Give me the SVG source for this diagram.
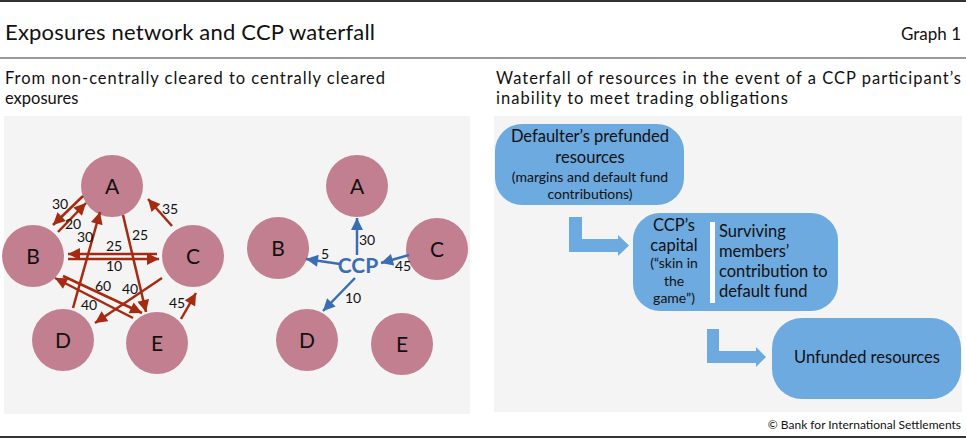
<svg xmlns="http://www.w3.org/2000/svg" width="966" height="445" viewBox="0 0 966 445">
<defs>
<marker id="ar" viewBox="0 0 10 10" refX="10" refY="5" markerWidth="13" markerHeight="12" markerUnits="userSpaceOnUse" orient="auto"><path d="M0,0 L10,5 L0,10 z" fill="#A52A10"/></marker>
<marker id="ab" viewBox="0 0 10 10" refX="10" refY="5" markerWidth="13" markerHeight="12" markerUnits="userSpaceOnUse" orient="auto"><path d="M0,0 L10,5 L0,10 z" fill="#3A6DB4"/></marker>
</defs>
<style>
text{font-family:Lato,"Noto Sans",sans-serif;fill:#111}
.node circle{fill:#C27F8F}
.node text{font-size:21px;text-anchor:middle}
.r{stroke:#A52A10;stroke-width:2.5;fill:none;marker-end:url(#ar)}
.b{stroke:#3A6DB4;stroke-width:2.5;fill:none;marker-end:url(#ab)}
.lbl{font-size:14px;text-anchor:middle}
.box{fill:#6DAAE0}
.wt{font-size:16.5px;text-anchor:middle}
.ws{font-size:14px;text-anchor:middle}
.sub{font-size:16.5px}
</style>
<rect width="966" height="445" fill="#fff"/>
<line x1="0" y1="1" x2="966" y2="1" stroke="#333" stroke-width="2"/>
<text x="5" y="40" style="font-size:22px" textLength="370">Exposures network and CCP waterfall</text>
<text x="961" y="40" style="font-size:17px;text-anchor:end">Graph 1</text>
<line x1="0" y1="58" x2="966" y2="58" stroke="#333" stroke-width="1.2"/>
<text class="sub" x="5" y="84" textLength="380">From non-centrally cleared to centrally cleared</text>
<text class="sub" x="5" y="104">exposures</text>
<text class="sub" x="496" y="84" textLength="465">Waterfall of resources in the event of a CCP participant’s</text>
<text class="sub" x="496" y="104" textLength="292">inability to meet trading obligations</text>
<rect x="4" y="116" width="466" height="298" fill="#F4F4F4"/>
<rect x="494" y="116" width="468" height="296" fill="#F4F4F4"/>

<g id="left-nodes">
<g id="nA" class="node"><circle cx="112" cy="186" r="31"/><text x="112" y="194">A</text></g>
<g id="nB" class="node"><circle cx="33" cy="256" r="31"/><text x="33" y="264">B</text></g>
<g id="nC" class="node"><circle cx="193" cy="256" r="31"/><text x="193" y="264">C</text></g>
<g id="nD" class="node"><circle cx="63" cy="340" r="31"/><text x="63" y="348">D</text></g>
<g id="nE" class="node"><circle cx="157" cy="343" r="31"/><text x="157" y="351">E</text></g>
</g>
<g id="left-connectors">
<line class="r" x1="83" y1="196" x2="53" y2="225"/>
<line class="r" x1="58" y1="232" x2="86" y2="203"/>
<line class="r" x1="73" y1="308" x2="100" y2="212"/>
<line class="r" x1="123" y1="215" x2="146" y2="312"/>
<line class="r" x1="172" y1="226" x2="148" y2="199"/>
<line class="r" x1="157" y1="254" x2="68" y2="254"/>
<line class="r" x1="68" y1="259" x2="159" y2="259"/>
<line class="r" x1="133" y1="318" x2="55" y2="278"/>
<line class="r" x1="63" y1="276" x2="142" y2="313"/>
<line class="r" x1="162" y1="278" x2="95" y2="323"/>
<line class="r" x1="181" y1="319" x2="196" y2="293"/>
<text class="lbl" x="60" y="209">30</text>
<text class="lbl" x="73" y="229">20</text>
<text class="lbl" x="85" y="242">30</text>
<text class="lbl" x="140" y="240">25</text>
<text class="lbl" x="170" y="214">35</text>
<text class="lbl" x="114" y="251">25</text>
<text class="lbl" x="114" y="271">10</text>
<text class="lbl" x="103" y="291">60</text>
<text class="lbl" x="89" y="310">40</text>
<text class="lbl" x="130" y="294">40</text>
<text class="lbl" x="177" y="308">45</text>
</g>

<g id="right-nodes">
<g id="rA" class="node"><circle cx="357" cy="186" r="31"/><text x="357" y="194">A</text></g>
<g id="rB" class="node"><circle cx="278" cy="248" r="31"/><text x="278" y="256">B</text></g>
<g id="rC" class="node"><circle cx="437" cy="249" r="31"/><text x="437" y="257">C</text></g>
<g id="rD" class="node"><circle cx="307" cy="340" r="31"/><text x="307" y="348">D</text></g>
<g id="rE" class="node"><circle cx="402" cy="344" r="31"/><text x="402" y="352">E</text></g>
<g id="ccp"><text x="358" y="273" style="font-size:21px;font-weight:bold;fill:#3A6DB4;text-anchor:middle">CCP</text></g>
</g>
<g id="right-connectors">
<line class="b" x1="357" y1="255" x2="357" y2="218"/>
<line class="b" x1="340" y1="264" x2="306" y2="259"/>
<line class="b" x1="409" y1="255" x2="381" y2="263"/>
<line class="b" x1="355" y1="278" x2="323" y2="311"/>
<text class="lbl" x="367" y="245">30</text>
<text class="lbl" x="325" y="259">5</text>
<text class="lbl" x="403" y="271">45</text>
<text class="lbl" x="353" y="303">10</text>
</g>

<g id="waterfall-connectors">
<path class="box" d="M569,217 H582 V239 H618 V235 L629,245.5 L618,256 V252 H569 Z"/>
<path class="box" d="M707,329 H719 V351 H756 V347 L766,357 L756,367 V363 H707 Z"/>
</g>
<g id="w1">
<rect class="box" x="495" y="124" width="189" height="81" rx="27"/>
<text class="wt" x="590" y="142">Defaulter’s prefunded</text>
<text class="wt" x="590" y="163">resources</text>
<text class="ws" x="590" y="182">(margins and default fund</text>
<text class="ws" x="590" y="199">contributions)</text>
</g>
<g id="w2">
<rect class="box" x="633" y="213" width="205" height="98" rx="27"/>
<text class="wt" x="674" y="231">CCP’s</text>
<text class="wt" x="674" y="251">capital</text>
<text class="ws" x="674" y="268">(“skin in</text>
<text class="ws" x="674" y="286">the</text>
<text class="ws" x="674" y="303">game”)</text>
<rect x="710" y="222" width="5" height="81" fill="#fff"/>
<text class="wt" x="719" y="237" style="text-anchor:start">Surviving</text>
<text class="wt" x="719" y="257" style="text-anchor:start">members’</text>
<text class="wt" x="719" y="277" style="text-anchor:start">contribution to</text>
<text class="wt" x="719" y="297" style="text-anchor:start">default fund</text>
</g>
<g id="w3">
<rect class="box" x="772" y="318" width="189" height="81" rx="30"/>
<text class="wt" x="867" y="363">Unfunded resources</text>
</g>

<text x="961" y="429" style="font-size:12px;text-anchor:end">© Bank for International Settlements</text>
<line x1="0" y1="437" x2="966" y2="437" stroke="#333" stroke-width="2"/>
</svg>
